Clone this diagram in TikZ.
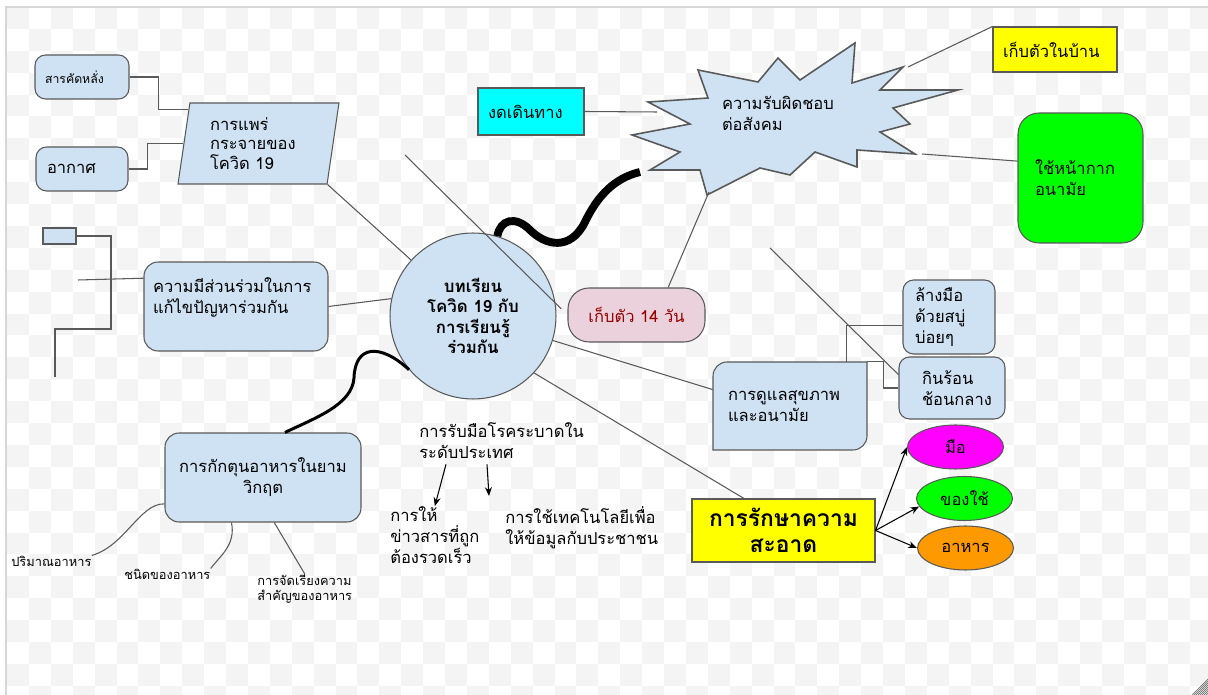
\documentclass[tikz,border=0pt]{standalone}
\usepackage{fontspec}
\setmainfont{Loma}[Script=Thai]
\definecolor{cardblue}{RGB}{207,226,243}
\definecolor{cardpink}{RGB}{234,209,220}
\definecolor{cardline}{RGB}{89,89,89}
\definecolor{hotyellow}{RGB}{255,255,0}
\definecolor{hotcyan}{RGB}{0,255,255}
\definecolor{hotgreen}{RGB}{0,255,0}
\definecolor{hotmagenta}{RGB}{255,0,255}
\definecolor{hotorange}{RGB}{255,153,0}
\definecolor{darkred}{RGB}{153,0,0}
\definecolor{checker}{RGB}{244,244,244}
\definecolor{framegray}{RGB}{214,214,214}
\usetikzlibrary{arrows.meta,calc,shapes.geometric}

\begin{document}
\begin{tikzpicture}[x=0.02cm,y=-0.02cm,
  card/.style={draw=cardline,line width=0.6pt,fill=cardblue,rounded corners=6pt,
    font=\fontsize{9.4}{12}\selectfont,align=left,inner sep=0pt},
  flat/.style={card,sharp corners},
  bubble/.style={ellipse,draw=cardline,line width=0.6pt,minimum width=1.92cm,
    minimum height=0.88cm,inner sep=0pt,font=\fontsize{9.4}{12}\selectfont},
  note/.style={font=\fontsize{9.4}{12}\selectfont,align=left,inner sep=0pt},
  tiny/.style={font=\fontsize{7.3}{9}\selectfont,align=left,inner sep=0pt},
  link/.style={draw=cardline,line width=0.6pt},
  pointer/.style={draw=black,line width=0.6pt,-{Stealth[length=5pt,width=4pt]}}
]
  % Canvas
  \useasboundingbox (0,0) rectangle (1208,695);
  \fill[white] (0,0) rectangle (1208,695);
  \begin{scope}
    \clip (7,7) rectangle (1208,695);
    \foreach \i in {0,...,54}
      \foreach \j in {0,...,15}
        \fill[checker] ({7+21.9*\i},{7+21.9*(2*\j+mod(\i,2))}) rectangle ++(21.9,21.9);
  \end{scope}
  \draw[framegray,line width=1pt] (6,695) -- (6,7) -- (1208,7);
  \foreach \k in {2,4,...,16}
    \draw[black!55,line width=0.4pt] (1208-\k,695) -- (1208,695-\k);

  % Spread
  \node[card,font=\fontsize{7}{8.5}\selectfont,minimum width=1.88cm,minimum height=0.88cm,
    text width=1.48cm] (secretion) at (82,77) {สารคัดหลั่ง};
  \node[card,minimum width=1.84cm,minimum height=0.88cm,text width=1.4cm] (air) at (82,169) {อากาศ};
  \node[card,sharp corners,trapezium,trapezium left angle=77,trapezium right angle=103,
    trapezium stretches body,minimum width=3.22cm,minimum height=1.62cm,text width=1.94cm,
    font=\fontsize{9.4}{11}\selectfont] (spread) at (258.5,143.5) {การแพร่\\กระจายของ\\โควิด 19};

  % Participation
  \node[flat,minimum width=0.66cm,minimum height=0.32cm] (blank) at (59.5,236) {};
  \coordinate (stub) at (55,377);
  \coordinate (loose) at (78,280);
  \node[card,rounded corners=8pt,minimum width=3.68cm,minimum height=1.78cm,text width=3.32cm]
    (part) at (236,306.5) {ความมีส่วนร่วมในการ\\แก้ไขปัญหาร่วมกัน\\\mbox{}};

  % Hub
  \node[circle,draw=cardline,line width=0.6pt,fill=cardblue,minimum size=3.32cm,inner sep=0pt,
    align=center,font=\bfseries\fontsize{9.6}{11.5}\selectfont] (hub) at (473,316)
    {บทเรียน\\โควิด 19 กับ\\การเรียนรู้\\ร่วมกัน};
  \node[card,fill=cardpink,rounded corners=12pt,minimum width=2.74cm,minimum height=1.08cm,
    text=darkred,align=center] (stay14) at (636.5,315) {เก็บตัว 14 วัน};

  % Responsibility
  \draw[draw=cardline,line width=0.9pt,fill=cardblue]
    (648,102) -- (708,98) -- (698,70) -- (758,82) -- (778,58) -- (800,80) -- (855,43)
    -- (852,83) -- (903,67) -- (880,90) -- (958,90) -- (893,108) -- (910,124) -- (880,132)
    -- (915,154) -- (857,150) -- (857,167) -- (815,152) -- (790,175) -- (760,168)
    -- (707,195) -- (700,170) -- (650,170) -- (680,152) -- (632,135) -- (690,124) -- cycle;
  \coordinate (burstW) at (657,112);
  \coordinate (burstNE) at (908,67);
  \coordinate (burstE) at (922,154);
  \coordinate (burstS) at (709,192);
  \coordinate (burstSW) at (640,172);
  \node[note,text width=2.2cm] (burst) at (777,113) {ความรับผิดชอบ\\ต่อสังคม};
  \node[flat,fill=hotcyan,minimum width=2.12cm,minimum height=0.94cm,text width=1.72cm]
    (nowalk) at (531,111.5) {งดเดินทาง};
  \node[flat,fill=hotyellow,minimum width=2.48cm,minimum height=0.9cm,text width=2.08cm]
    (home) at (1055,49.5) {เก็บตัวในบ้าน};
  \node[card,fill=hotgreen,rounded corners=12pt,minimum width=2.5cm,minimum height=2.6cm,
    text width=1.82cm] (mask) at (1080.5,178) {ใช้หน้ากาก\\อนามัย};

  % Health
  \draw[draw=cardline,line width=0.6pt,fill=cardblue] (713,450)
    [rounded corners=8pt] -- (713,362) [sharp corners] -- (867,362)
    [rounded corners=8pt] -- (867,450) [sharp corners] -- (713,450) -- cycle;
  \node[note,minimum width=3.08cm,minimum height=1.76cm,text width=2.48cm] (health)
    at (790,406) {การดูแลสุขภาพ\\และอนามัย};
  \node[card,minimum width=1.84cm,minimum height=1.48cm,text width=1.36cm]
    (wash) at (949,317) {ล้างมือ\\ด้วยสบู่\\บ่อยๆ};
  \node[card,minimum width=2.12cm,minimum height=1.24cm,text width=1.2cm]
    (hot) at (952,388) {กินร้อน\\ช้อนกลาง};

  % Cleanliness
  \node[flat,fill=hotyellow,minimum width=3.66cm,minimum height=1.26cm,align=center,
    font=\bfseries\fontsize{13}{15}\selectfont] (clean) at (783.5,530.5) {การรักษาความ\\สะอาด};
  \node[bubble,fill=hotmagenta] (hand) at (955.5,447) {มือ};
  \node[bubble,fill=hotgreen] (stuff) at (964.5,498.5) {ของใช้};
  \node[bubble,fill=hotorange] (food) at (965.5,548) {อาหาร};

  % National response
  \node[note,anchor=west] (nation) at (419,441) {การรับมือโรคระบาดใน\\ระดับประเทศ};
  \node[note,anchor=west] (news) at (390,535) {การให้\\ข่าวสารที่ถูก\\ต้องรวดเร็ว};
  \node[note,anchor=west] (tech) at (505,527.5) {การใช้เทคโนโลยีเพื่อ\\ให้ข้อมูลกับประชาชน};

  % Stockpiling
  \node[card,rounded corners=8pt,minimum width=3.92cm,minimum height=1.78cm,align=center]
    (stock) at (263,477.5) {การกักตุนอาหารในยาม\\วิกฤต};
  \node[tiny,anchor=west] (amount) at (11,561) {ปริมาณอาหาร};
  \node[tiny,anchor=west] (kind) at (124,574) {ชนิดของอาหาร};
  \node[tiny,anchor=west] (order) at (257,589) {การจัดเรียงความ\\สำคัญของอาหาร};

  % Connectors
  \draw[link] (secretion.east) -- ++(29,0) |- (spread.154);
  \draw[link] (air.east) -- ++(19,0) |- (spread.left side);
  \draw[link] (spread.bottom right corner) -- (hub);
  \draw[link] (blank.east) -| (111,329) -| (stub);
  \draw[link] (loose) -- (part.163);
  \draw[link] (part.east) -- (hub.168);
  \coordinate (crossA) at (405,155);
  \draw[link,shorten >=5pt] (crossA) -- (stay14.west);
  \draw[link] (stay14.41) -- (burstS);
  \draw[link] (nowalk.east) -- (burstW);
  \draw[link] (burstNE) -- (home.north west);
  \draw[link] (burstE) -- (mask.165);
  \draw[line width=4.5pt] (hub.73) .. controls (500,220) and (515,215) .. (530,230)
    .. controls (545,245) and (570,252) .. (585,222)
    .. controls (598,195) and (615,178) .. (burstSW);
  \draw[line width=1.7pt] (hub.220) .. controls (380,343) and (355,345) .. (354,378)
    .. controls (352,405) and (315,418) .. (stock.64);
  \draw[link] (hub) -- (health.168);
  \draw[link] (health.38) |- (wash.190);
  \draw[link] (health.north east) -- ++(16,0) |- (hot.west);
  \coordinate (crossB) at (770,248);
  \draw[link] (crossB) -- (hot.166);
  \draw[link] (hub.317) -- (clean.141);
  \draw[pointer] (clean.east) -- (hand.west);
  \draw[pointer] (clean.east) -- (stuff.190);
  \draw[pointer] (clean.east) -- (food.west);
  \draw[pointer] ($(nation.south west)+(27,5)$) -- (news.north);
  \draw[pointer] ($(nation.south west)+(68,5)$) -- ($(tech.north west)+(-16,-10)$);
  \draw[link] (stock.195) .. controls (140,503) and (125,546) .. (amount.north east);
  \draw[link] (stock.235) .. controls (236,545) and (220,556) .. (kind.north east);
  \draw[link] (stock.284) -- (order.north);
\end{tikzpicture}
\end{document}
